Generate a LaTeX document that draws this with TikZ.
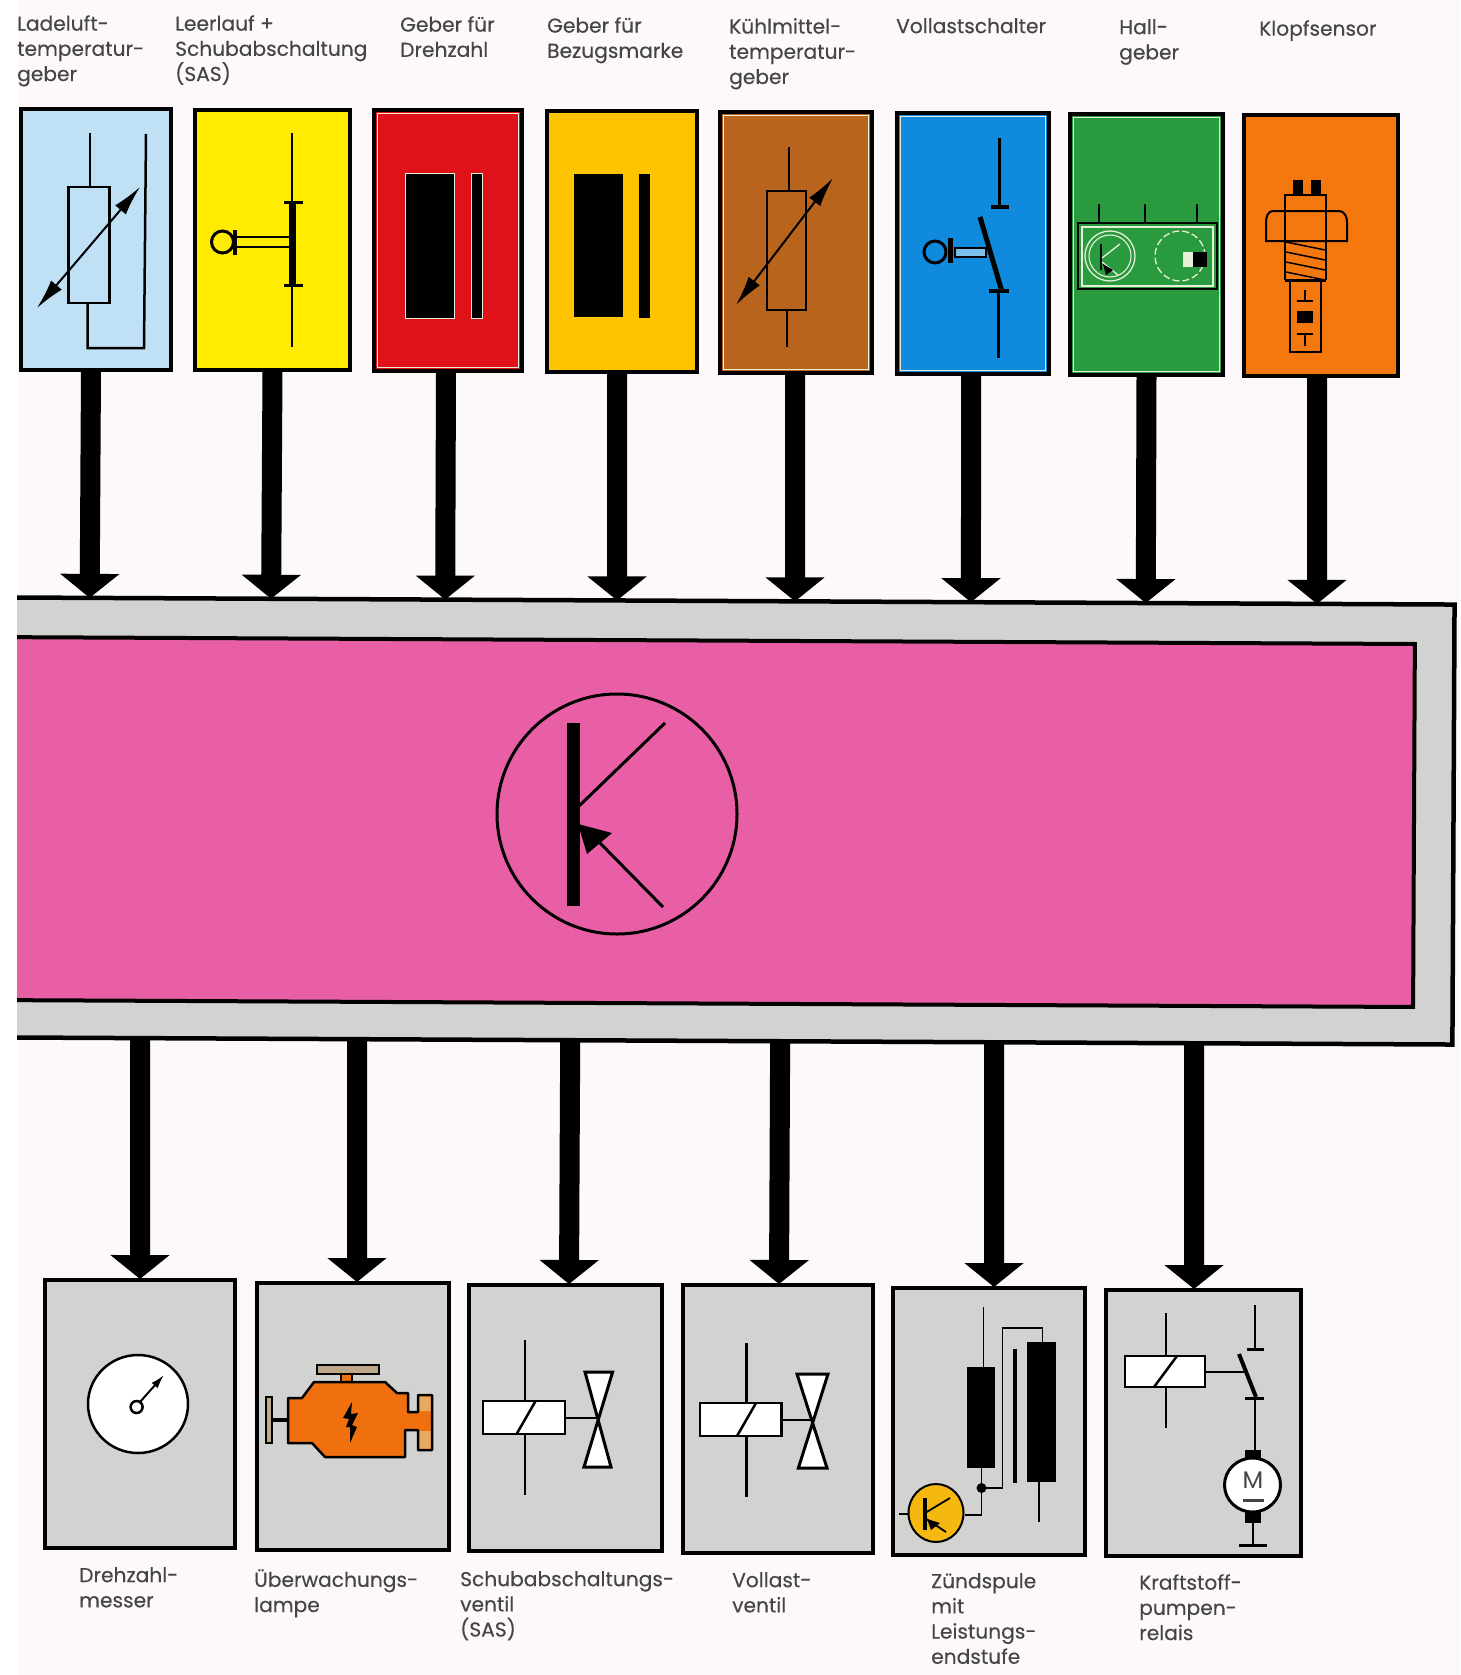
\documentclass[tikz,border=0pt]{standalone}
\usepackage{fontspec}
\setmainfont{Poppins}
\usetikzlibrary{arrows.meta,calc}
\definecolor{bgc}{HTML}{FDF8FA}
\definecolor{grayc}{HTML}{D2D2D0}
\definecolor{pinkc}{HTML}{E85FA6}
\definecolor{cA}{HTML}{BFE0F5}
\definecolor{cB}{HTML}{FFEC00}
\definecolor{cC}{HTML}{E01219}
\definecolor{cD}{HTML}{FFC400}
\definecolor{cE}{HTML}{B8641C}
\definecolor{cF}{HTML}{0F8ADC}
\definecolor{cG}{HTML}{2A9A3E}
\definecolor{cH}{HTML}{F5780F}
\definecolor{txtc}{HTML}{454545}
\definecolor{enginec}{HTML}{F0700F}
\definecolor{tanc}{HTML}{BFA888}
\definecolor{flangec}{HTML}{E8A860}
\definecolor{yelc}{HTML}{F5B810}
\definecolor{palec}{HTML}{E8EFD8}
\tikzset{
  panel/.style={draw=black,line width=4pt,inner sep=0pt,outer sep=0pt,fill=#1},
  bigarrow/.style={line width=20pt,black,-{Triangle[width=58pt,length=24pt]}},
  ln/.style={line width=2.5pt,black},
  thin/.style={line width=1.6pt,black},
  pale/.style={line width=1.1pt,palec},
  lab/.style={font=\fontsize{20.2}{25.2}\selectfont\addfontfeature{FakeBold=0.25},text=txtc,align=left,anchor=north west,inner sep=0pt},
  dbl/.style={{Latex[length=30pt,width=14pt]}-{Latex[length=30pt,width=14pt]},line width=2pt},
}
\newcommand{\panelbox}[6]{\node[panel=#6,minimum width={(#4-#2-4)*1pt},minimum height={(#5-#3-4)*1pt}] (#1) at ({(#2+#4)/2},{(#3+#5)/2}) {};}
\newcommand{\innerpale}[1]{\draw[pale] ([xshift=3.5pt,yshift=-3.5pt]#1.north west) rectangle ([xshift=-3.5pt,yshift=3.5pt]#1.south east);}
\newcommand{\fr}[2]{\fill[black] #1 rectangle #2;}
\begin{document}
\begin{tikzpicture}[x=1pt,y=-1pt]
\useasboundingbox (0,0) rectangle (1460,1675);
\fill[white] (0,0) rectangle (1460,1675);
\fill[bgc] (17,0) rectangle (1460,1675);

% central block
\begin{scope}
\clip (17,500) rectangle (1460,1100);
\node[rotate=-0.28,fill=grayc,minimum width=1447pt,minimum height=440pt,inner sep=0pt,outer sep=0pt] (core) at (730,821) {};
\node[rotate=-0.28,fill=pinkc,minimum width=1428pt,minimum height=363pt,inner sep=0pt,outer sep=0pt] (ecu) at (700,822) {};
\draw[line width=4.5pt] (core.north west) -- (core.north east) -- (core.south east) -- (core.south west);
\draw[line width=4pt] (ecu.north west) -- (ecu.north east) -- (ecu.south east) -- (ecu.south west);
\end{scope}

% transistor
\node[draw,circle,line width=3pt,minimum size=240pt,inner sep=0pt] (tr) at (617,814) {};
\fr{(567,723)}{(580,906)}
\draw[line width=3pt] (578,807) -- (665,723);
\draw[line width=3pt] (663,907) -- (600,843);
\fill (578,824) -- (612,833) -- (587,854) -- cycle;

% sensors
\panelbox{t1}{19}{107}{173}{372}{cA}
\panelbox{t2}{193}{108}{352}{372}{cB}
\panelbox{t3}{372}{108}{524}{373}{cC}
\panelbox{t4}{545}{109}{699}{374}{cD}
\panelbox{t5}{718}{110}{874}{375}{cE}
\panelbox{t6}{895}{111}{1051}{376}{cF}
\panelbox{t7}{1068}{112}{1225}{377}{cG}
\panelbox{t8}{1242}{113}{1400}{378}{cH}
\innerpale{t3}\innerpale{t5}\innerpale{t6}\innerpale{t7}

% actuators
\panelbox{b1}{43}{1278}{237}{1550}{grayc}
\panelbox{b2}{255}{1281}{451}{1552}{grayc}
\panelbox{b3}{467}{1283}{664}{1553}{grayc}
\panelbox{b4}{681}{1283}{875}{1555}{grayc}
\panelbox{b5}{891}{1286}{1087}{1557}{grayc}
\panelbox{b6}{1104}{1288}{1303}{1558}{grayc}

% arrows top
\draw[bigarrow] ([xshift=-5pt]t1.south) -- ($(core.north west)!0.0567!(core.north east)$);
\draw[bigarrow] ([xshift=0pt]t2.south) -- ($(core.north west)!0.1821!(core.north east)$);
\draw[bigarrow] ([xshift=-2pt]t3.south) -- ($(core.north west)!0.3024!(core.north east)$);
\draw[bigarrow] ([xshift=-5pt]t4.south) -- ($(core.north west)!0.4212!(core.north east)$);
\draw[bigarrow] ([xshift=-1pt]t5.south) -- ($(core.north west)!0.5442!(core.north east)$);
\draw[bigarrow] ([xshift=-2pt]t6.south) -- ($(core.north west)!0.6658!(core.north east)$);
\draw[bigarrow] ([xshift=0pt]t7.south) -- ($(core.north west)!0.7866!(core.north east)$);
\draw[bigarrow] ([xshift=-4pt]t8.south) -- ($(core.north west)!0.9050!(core.north east)$);
% arrows bottom
\draw[bigarrow] ($(core.south west)!0.0931!(core.south east)$) -- ([xshift=0pt,yshift=1pt]b1.north);
\draw[bigarrow] ($(core.south west)!0.2430!(core.south east)$) -- ([xshift=4pt,yshift=1pt]b2.north);
\draw[bigarrow] ($(core.south west)!0.3903!(core.south east)$) -- ([xshift=3.5pt,yshift=1pt]b3.north);
\draw[bigarrow] ($(core.south west)!0.5354!(core.south east)$) -- ([xshift=1pt,yshift=1pt]b4.north);
\draw[bigarrow] ($(core.south west)!0.6832!(core.south east)$) -- ([xshift=5pt,yshift=1pt]b5.north);
\draw[bigarrow] ($(core.south west)!0.8215!(core.south east)$) -- ([xshift=-9.5pt,yshift=1pt]b6.north);

% symbol 1
\draw[ln,fill=cA] (68.5,187) rectangle (109.5,303);
\draw[ln] (90,133) -- (90,187);
\draw[ln] (87.5,303) -- (87.5,348) -- (144,348) -- (146,134);
\draw[dbl] (37,308) -- (140,187);

% symbol 2
\draw[ln] (292,133) -- (292,347);
\draw[line width=7pt] (292,202) -- (292,285);
\draw[line width=3pt] (284,202) -- (303,202) (284,285) -- (303,285);
\draw[line width=2pt] (235,237) -- (289,237) (235,247) -- (289,247);
\draw[line width=3.5pt] (235,230) -- (235,255);
\draw[line width=3pt] (222.5,242) circle[radius=11pt];

% symbol 3,4
\draw[fill=black,draw=palec,line width=1pt] (405,173) rectangle (454,318);
\draw[fill=black,draw=palec,line width=1pt] (471,173) rectangle (482,318);
\fr{(573.5,174)}{(622.5,317)}
\fr{(639,174)}{(649.5,318)}

% symbol 5
\draw[ln] (767,191) rectangle (806,310);
\draw[ln] (789,147) -- (789,191) (787,310) -- (787,347);
\draw[dbl] (736,305) -- (833,178);

% symbol 6
\draw[ln] (999.5,138) -- (999.5,207);
\draw[line width=3.5pt] (991,207) -- (1009,207);
\draw[line width=5pt] (980,217) -- (1001.5,290);
\draw[line width=3.5pt] (989,291) -- (1009,291);
\draw[ln] (998.5,291) -- (998.5,358);
\draw[draw=black,fill=cF!55!white,line width=1.5pt] (955,248) rectangle (986,257);
\draw[line width=5pt] (950,238) -- (950,263);
\draw[line width=3pt] (935,252) circle[radius=11pt];

% symbol 7 (Hall)
\draw[line width=2.5pt] (1078,223) rectangle (1217,289);
\draw[pale] (1082,227) rectangle (1213,286);
\foreach \px in {1099,1145,1197}{ \draw[ln,line cap=round] (\px,205) -- (\px,223); }
\draw[pale,line width=1.3pt] (1110,256) circle[radius=25pt];
\draw[pale] (1110,256) circle[radius=21pt];
\draw[line width=2.5pt] (1101,244) -- (1101,270);
\draw[pale,line width=1.3pt] (1102,258) -- (1120,244);
\draw[pale,line width=1.3pt] (1102,262) -- (1118,275);
\fill (1103,264) -- (1113,270) -- (1106,275) -- cycle;
\draw[pale,line width=1.3pt,dashed,dash pattern=on 7pt off 3pt] (1180,256) circle[radius=25pt];
\fill[palec] (1183,252) rectangle (1195,267);
\fill (1193,252) rectangle (1207,267);

% symbol 8 (sensor)
\fr{(1293,180)}{(1303,195)}
\fr{(1311,180)}{(1321,195)}
\draw[line width=2pt] (1285,195) rectangle (1326,211);
\draw[line width=2pt] (1285,211) -- (1273,211) to[out=180,in=90] (1266,222) -- (1266,241) -- (1347,241) -- (1347,222) to[out=90,in=0] (1339,211) -- (1326,211) -- (1285,211);
\draw[line width=2pt] (1285,211) -- (1285,280) (1326,211) -- (1326,280);
\foreach \py in {247,257,267,277}{ \draw[line width=1.5pt] (1286,\py-5) -- (1325,\py+3); }
\draw[line width=3pt] (1285,280) -- (1326,280);
\draw[line width=2pt] (1290,280) -- (1290,352) -- (1321,352) -- (1321,280);
\draw[line width=1.5pt] (1305,290) -- (1305,301) (1297,301) -- (1313,301);
\fr{(1297,311)}{(1313,323)}
\draw[line width=1.5pt] (1297,334) -- (1313,334) (1305,334) -- (1305,346);

% gauge
\draw[ln,fill=white] (138,1404) ellipse[x radius=50pt,y radius=49pt];
\draw[line width=2.5pt] (136.6,1407) circle[radius=6pt];
\draw[line width=2pt,-{Latex[length=14pt,width=8pt]}] (140,1402) -- (164,1375);

% engine
\draw[ln,fill=tanc] (317,1365) rectangle (379,1374);
\draw[ln,fill=enginec] (341,1374) rectangle (352,1382);
\draw[ln,fill=tanc] (266,1397) rectangle (272,1443);
\draw[line width=4pt] (272,1420) -- (288,1420);
\draw[ln,fill=enginec,line join=round] (288,1398) -- (302,1398) -- (314,1382) -- (385,1382) -- (397,1393) -- (408,1393) -- (408,1412) -- (418,1412) -- (418,1395) -- (432,1395) -- (432,1450) -- (418,1450) -- (418,1430) -- (405,1430) -- (405,1457) -- (325,1457) -- (312,1443) -- (288,1443) -- cycle;
\fill[flangec] (419.5,1396.5) rectangle (430.5,1411) (419.5,1431) rectangle (430.5,1448.5);
\fill (352,1402) -- (343,1418) -- (349,1419) -- (346,1427) -- (350,1427) -- (350,1443) -- (357,1427) -- (352,1425) -- (358,1413) -- (351,1414) -- cycle;

% valve 1
\draw[ln] (525,1340) -- (525,1495);
\draw[ln,fill=white] (483,1401) rectangle (565,1434);
\draw[ln] (516.6,1434) -- (535.6,1401);
\draw[ln] (565,1418) -- (598,1418);
\draw[ln,fill=white,line width=3pt,line join=miter] (585,1372) -- (612.6,1372) -- (584,1467) -- (611,1467) -- cycle;

% valve 2
\draw[ln] (746.6,1343) -- (746.6,1497);
\draw[ln,fill=white] (700,1403) rectangle (781.5,1436);
\draw[ln] (737,1436) -- (756,1403);
\draw[ln] (781.5,1420) -- (812,1420);
\draw[ln,fill=white,line width=3pt] (797,1374) -- (828,1374) -- (798.4,1468) -- (827,1468) -- cycle;

% ignition
\draw[thin] (983.5,1307) -- (983.5,1367);
\fr{(967,1367)}{(995,1468)}
\fr{(1027,1342)}{(1056,1482)}
\fr{(1013,1349)}{(1017,1483)}
\draw[thin] (1039,1482) -- (1039,1522);
\draw[thin] (981.5,1468) -- (981.5,1515) -- (965,1515);
\draw[thin] (981.5,1488) -- (1002.5,1488) -- (1002.5,1328) -- (1042.5,1328) -- (1042.5,1342);
\fill (981.5,1488) circle[radius=5pt];
\draw[thin] (899,1514) -- (910,1514);
\draw[line width=2pt,fill=yelc] (936,1513) ellipse[x radius=27.5pt,y radius=29pt];
\draw[line width=3.5pt] (925,1498) -- (925,1530);
\draw[line width=1.8pt] (925,1513) -- (950,1498) (925,1518) -- (946,1532);
\fill (927,1519) -- (940,1523) -- (931,1530) -- cycle;

% relay
\draw[ln] (1166,1313) -- (1166,1428);
\draw[ln,fill=white] (1125,1356) rectangle (1205,1387);
\draw[ln] (1154,1387) -- (1177,1356);
\draw[ln] (1205,1372) -- (1245,1372);
\draw[ln] (1255,1305) -- (1255,1349);
\draw[line width=3pt] (1246.5,1349) -- (1264,1349);
\draw[line width=4pt] (1239,1354) -- (1256,1397);
\draw[line width=3pt] (1245,1398) -- (1264,1398);
\draw[ln] (1255,1398) -- (1255,1450);
\fr{(1244.5,1450)}{(1261,1461)}
\fr{(1244.5,1512)}{(1261,1523)}
\draw[line width=3pt,fill=white] (1252.5,1485) ellipse[x radius=28pt,y radius=27pt];
\node[font=\fontsize{24}{24}\selectfont,text=txtc,inner sep=0pt] (motorM) at (1253,1480) {M};
\draw[line width=3pt,txtc] (1243,1500) -- (1264,1500);
\draw[ln] (1253,1523) -- (1253,1545);
\draw[line width=3pt] (1239,1545) -- (1267,1545);

% labels
\node[lab] (l1) at (17,15) {Ladeluft-\\temperatur-\\geber};
\node[lab] (l2) at (175,15) {Leerlauf +\\Schubabschaltung\\(SAS)};
\node[lab] (l3) at (400,16) {Geber für\\Drehzahl};
\node[lab] (l4) at (547,17) {Geber für\\Bezugsmarke};
\node[lab] (l5) at (729,18) {Kühlmittel-\\temperatur-\\geber};
\node[lab] (l6) at (896,18) {Vollastschalter};
\node[lab] (l7) at (1119,19) {Hall-\\geber};
\node[lab] (l8) at (1259,20) {Klopfsensor};
\node[lab] (m1) at (79,1567) {Drehzahl-\\messer};
\node[lab] (m2) at (254,1569) {Überwachungs-\\lampe};
\node[lab] (m3) at (460,1571) {Schubabschaltungs-\\ventil\\(SAS)};
\node[lab] (m4) at (732,1572) {Vollast-\\ventil};
\node[lab] (m5) at (931,1573) {Zündspule\\mit\\Leistungs-\\endstufe};
\node[lab] (m6) at (1139,1574) {Kraftstoff-\\pumpen-\\relais};
\end{tikzpicture}
\end{document}
